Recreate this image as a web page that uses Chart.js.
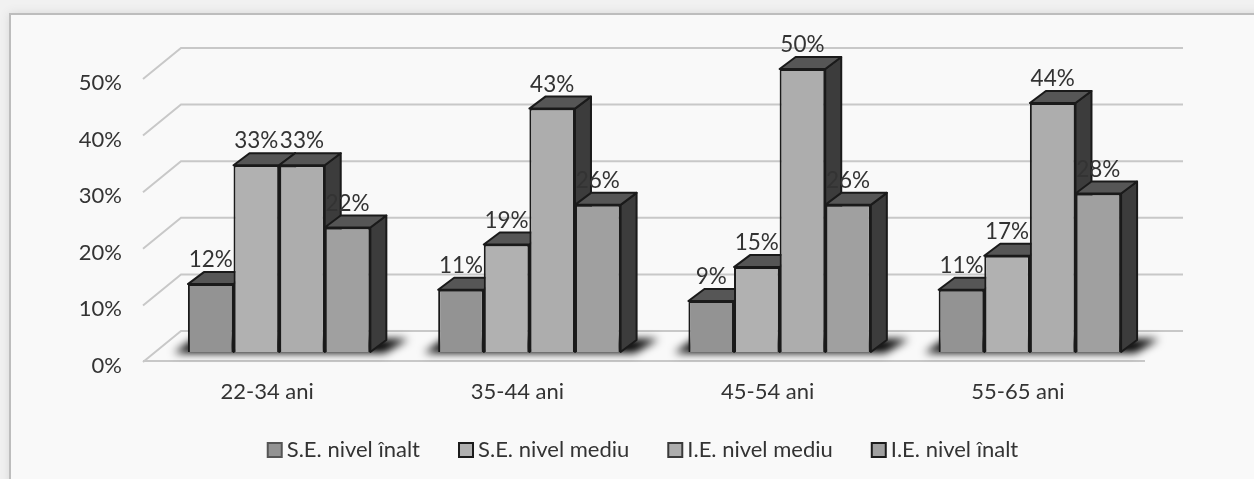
<!DOCTYPE html>
<html lang="ro">
<head>
    <meta charset="UTF-8">
    <title>Nivel pe grupe de vârstă</title>
    <style>
        html, body {
            margin: 0;
            width: 1254px;
            height: 479px;
            overflow: hidden;
            background-color: #f1f1f1;
        }

        .card {
            position: absolute;
            left: 9px;
            top: 13px;
            width: 1300px;
            height: 520px;
            background-color: #f9f9f9;
            border: 2px solid #bdbdbd;
            box-shadow: 0 0 9px #d8d8d8;
        }

        canvas {
            position: absolute;
            left: 0;
            top: 0;
        }
    </style>
    <script src="https://cdn.jsdelivr.net/npm/chart.js"></script>
</head>
<body>

<div class="card"></div>
<canvas id="myChart" width="1254" height="479"></canvas>

<script>
    const ageGroups = ['22-34 ani', '35-44 ani', '45-54 ani', '55-65 ani'];
    const seriesNames = ['S.E. nivel înalt', 'S.E. nivel mediu', 'I.E. nivel mediu', 'I.E. nivel înalt'];
    const seHigh = [12, 11, 9, 11];
    const seMedium = [33, 19, 15, 17];
    const ieMedium = [33, 43, 50, 44];
    const ieHigh = [22, 26, 26, 28];
    const percentTicks = [0, 10, 20, 30, 40, 50];

    const frontColors = ['#939393', '#b1b1b1', '#adadad', '#a0a0a0'];
    const legendBorders = ['#555555', '#1c1c1c', '#3a3a3a', '#1c1c1c'];
    const textColor = '#333333';
    const fontName = 'Lato';

    // depth of the box drawn behind each bar
    const depthX = 16;
    const depthY = 12;

    function polygon(ctx, pts) {
        ctx.beginPath();
        ctx.moveTo(pts[0][0], pts[0][1]);
        pts.slice(1).forEach(p => ctx.lineTo(p[0], p[1]));
        ctx.closePath();
    }

    // walls and floor lines, then the soft shadow under each group
    const wallsPlugin = {
        id: 'walls',
        afterLayout(chart) {
            // the legend sits a little left of the plot centre
            chart.legend.left -= 12;
            chart.legend.right -= 12;
        },
        beforeDatasetsDraw(chart) {
            const ctx = chart.ctx;
            const yScale = chart.scales.y;
            const left = chart.chartArea.left;
            const right = chart.chartArea.right;

            ctx.save();
            ctx.strokeStyle = '#c8c8c8';
            ctx.lineWidth = 2;
            percentTicks.forEach(tick => {
                const y = yScale.getPixelForValue(tick);
                ctx.beginPath();
                ctx.moveTo(left - 11, y + 10);
                ctx.lineTo(left + 27, y - 21);
                ctx.lineTo(right + 28, y - 21);
                ctx.stroke();
            });
            const floorY = yScale.getPixelForValue(0);
            ctx.beginPath();
            ctx.moveTo(left - 11, floorY + 9);
            ctx.lineTo(right - 10, floorY + 9);
            ctx.stroke();

            const first = chart.getDatasetMeta(0).data;
            const last = chart.getDatasetMeta(3).data;
            ctx.filter = 'blur(4px)';
            ctx.fillStyle = '#000000';
            first.forEach((bar, i) => {
                const x0 = bar.x - bar.width / 2;
                const x1 = last[i].x + last[i].width / 2;
                polygon(ctx, [
                    [x0 - 14, floorY + 1],
                    [x1 + 14, floorY + 1],
                    [x1 + 38, floorY - 13],
                    [x0 + 6, floorY - 13]
                ]);
                ctx.fill();
            });
            ctx.filter = 'none';
            ctx.restore();

            // side and top of every box, left to right, before the front faces
            ctx.save();
            ctx.strokeStyle = '#1a1a1a';
            ctx.lineWidth = 2;
            ctx.lineJoin = 'round';
            ageGroups.forEach((_, i) => {
                seriesNames.forEach((_, d) => {
                    const bar = chart.getDatasetMeta(d).data[i];
                    const x0 = bar.x - bar.width / 2;
                    const x1 = bar.x + bar.width / 2;
                    polygon(ctx, [
                        [x1, bar.y],
                        [x1 + depthX, bar.y - depthY],
                        [x1 + depthX, bar.base - depthY],
                        [x1, bar.base]
                    ]);
                    ctx.fillStyle = '#3c3c3c';
                    ctx.fill();
                    ctx.stroke();
                    polygon(ctx, [
                        [x0, bar.y],
                        [x0 + depthX, bar.y - depthY],
                        [x1 + depthX, bar.y - depthY],
                        [x1, bar.y]
                    ]);
                    ctx.fillStyle = '#565656';
                    ctx.fill();
                    ctx.stroke();
                });
            });
            ctx.restore();
        },
        afterDatasetsDraw(chart) {
            // value labels above the boxes
            const ctx = chart.ctx;
            ctx.save();
            ctx.font = '22.5px ' + fontName;
            ctx.fillStyle = textColor;
            ctx.textAlign = 'center';
            ctx.textBaseline = 'middle';
            chart.data.datasets.forEach((dataset, d) => {
                chart.getDatasetMeta(d).data.forEach((bar, i) => {
                    ctx.fillText(dataset.data[i] + '%', bar.x, bar.y - 24);
                });
            });
            ctx.restore();
        },
        afterDraw(chart) {
            // legend swatches are wider than the box width the text offset allows
            const ctx = chart.ctx;
            ctx.save();
            ctx.lineWidth = 2;
            chart.legend.legendHitBoxes.forEach((box, d) => {
                ctx.fillStyle = frontColors[d];
                ctx.strokeStyle = legendBorders[d];
                const top = box.top + box.height / 2 - 7;
                ctx.fillRect(box.left + 1, top, 14, 14);
                ctx.strokeRect(box.left + 1, top, 14, 14);
            });
            ctx.restore();
        }
    };

    const allSeries = [seHigh, seMedium, ieMedium, ieHigh];

    const config = {
        type: 'bar',
        data: {
            labels: ageGroups,
            datasets: allSeries.map((values, d) => ({
                label: seriesNames[d],
                data: values,
                backgroundColor: frontColors[d],
                borderColor: '#1a1a1a',
                borderWidth: 2,
                barPercentage: 1,
                categoryPercentage: 0.729
            }))
        },
        plugins: [wallsPlugin],
        options: {
            responsive: false,
            animation: false,
            layout: {
                padding: { top: 69, right: 99, bottom: 8, left: 0 }
            },
            scales: {
                x: {
                    grid: { display: false },
                    border: { display: false },
                    afterFit(scale) { scale.height = 49; },
                    ticks: {
                        color: textColor,
                        font: { family: fontName, size: 22 },
                        padding: 19,
                        labelOffset: -12,
                        maxRotation: 0
                    }
                },
                y: {
                    min: 0,
                    max: 50,
                    grid: { display: false },
                    border: { display: false },
                    afterFit(scale) { scale.width = 154; },
                    afterBuildTicks(scale) {
                        scale.ticks = percentTicks.map(value => ({ value }));
                    },
                    ticks: {
                        color: textColor,
                        font: { family: fontName, size: 22 },
                        padding: 24,
                        labelOffset: 14,
                        callback: value => value + '%'
                    }
                }
            },
            plugins: {
                tooltip: { enabled: false },
                legend: {
                    position: 'bottom',
                    fullSize: false,
                    labels: {
                        boxWidth: 9,
                        padding: 38,
                        color: textColor,
                        font: { family: fontName, size: 22 },
                        generateLabels: chart => chart.data.datasets.map((dataset, d) => ({
                            text: dataset.label,
                            datasetIndex: d,
                            fillStyle: 'rgba(0,0,0,0)',
                            strokeStyle: 'rgba(0,0,0,0)',
                            fontColor: textColor,
                            lineWidth: 0
                        }))
                    }
                }
            }
        }
    };

    const myChart = new Chart(document.getElementById('myChart'), config);
</script>

</body>
</html>
